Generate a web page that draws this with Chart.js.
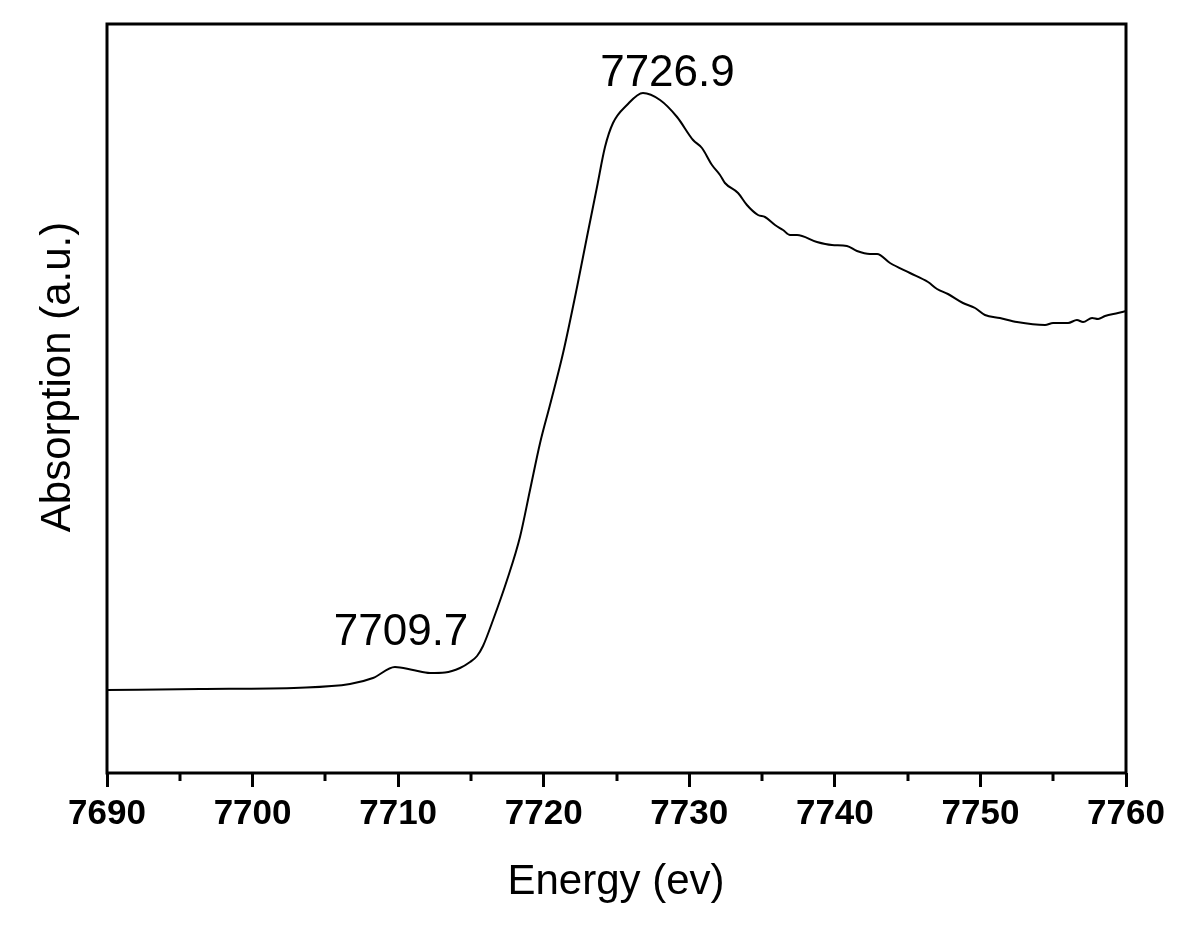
<!DOCTYPE html>
<html>
<head>
<meta charset="utf-8">
<script src="https://cdn.jsdelivr.net/npm/chart.js@4.4.0/dist/chart.umd.min.js"></script>
<style>
  html, body { margin: 0; padding: 0; background: #ffffff; }
  #wrap { width: 1200px; height: 936px; }
</style>
</head>
<body>
<div id="wrap"><canvas id="c" width="1200" height="936"></canvas></div>
<script>
// Energy (eV)
const energy = [
  7690.00, 7696.39, 7703.26, 7706.69, 7708.27, 7709.78, 7711.02, 7712.19, 7713.22, 7714.25,
  7714.94, 7715.42, 7715.83, 7716.52, 7717.48, 7718.37, 7719.06, 7719.75, 7720.43, 7721.33,
  7722.29, 7722.97, 7723.66, 7724.21, 7724.76, 7725.72, 7726.82, 7727.99, 7729.16, 7730.26,
  7730.87, 7731.56, 7732.11, 7732.45, 7733.35, 7733.96, 7734.72, 7735.20, 7735.89, 7736.44,
  7736.92, 7737.40, 7738.77, 7739.80, 7740.83, 7741.52, 7742.41, 7742.90, 7743.79, 7745.16,
  7746.40, 7747.02, 7747.77, 7748.80, 7749.63, 7750.31, 7751.34, 7752.51, 7754.44, 7754.99,
  7756.02, 7756.63, 7757.05, 7757.67, 7758.08, 7758.56, 7759.45, 7760.00
];
// Absorption (a.u.)
const absorption = [
  83, 84, 85.3, 89, 95, 106, 103, 100, 100.5, 105,
  111, 117, 127, 153, 193, 236, 283, 330, 368, 420,
  486, 536, 586, 626, 650, 668, 680, 673, 656, 633,
  625, 608, 598, 590, 580, 568, 558, 556, 548, 543,
  538, 538, 531, 528, 527, 522, 519, 519, 510, 500,
  491, 484, 479, 470, 465, 458, 455, 451, 448, 450,
  450, 453, 451, 455, 454, 457, 460, 462
];
const xTickValues = [7690, 7700, 7710, 7720, 7730, 7740, 7750, 7760];
const minorTickValues = [7695, 7705, 7715, 7725, 7735, 7745, 7755];
const peakLabels = [
  { text: "7709.7", x: 7710.2, y: 140 },
  { text: "7726.9", x: 7728.5, y: 699 }
];
const xTitle = "Energy (ev)";
const yTitle = "Absorption (a.u.)";

const points = energy.map((e, i) => ({ x: e, y: absorption[i] }));

const decor = {
  id: 'decor',
  afterDraw(chart) {
    const ctx = chart.ctx;
    const a = chart.chartArea;
    const xs = chart.scales.x, ys = chart.scales.y;
    ctx.save();
    // frame
    ctx.strokeStyle = '#000';
    ctx.lineWidth = 3;
    ctx.strokeRect(a.left, a.top, a.right - a.left, a.bottom - a.top);
    // minor ticks
    minorTickValues.forEach(v => {
      const px = Math.round(xs.getPixelForValue(v));
      ctx.beginPath();
      ctx.moveTo(px, a.bottom);
      ctx.lineTo(px, a.bottom + 8);
      ctx.stroke();
    });
    // axis titles
    ctx.fillStyle = '#000';
    ctx.font = '42px "Liberation Sans", Arial, sans-serif';
    ctx.textAlign = 'center';
    ctx.textBaseline = 'middle';
    ctx.fillText(xTitle, 616, 882);
    ctx.save();
    ctx.translate(58, 377);
    ctx.rotate(-Math.PI / 2);
    ctx.fillText(yTitle, 0, 0);
    ctx.restore();
    // peak annotations
    ctx.font = '44px "Liberation Sans", Arial, sans-serif';
    peakLabels.forEach(p => {
      ctx.fillText(p.text, xs.getPixelForValue(p.x), ys.getPixelForValue(p.y));
    });
    ctx.restore();
  }
};

new Chart(document.getElementById('c'), {
  type: 'line',
  data: {
    datasets: [{
      data: points,
      borderColor: '#000',
      borderWidth: 2,
      pointRadius: 0,
      fill: false,
      tension: 0,
      cubicInterpolationMode: 'monotone'
    }]
  },
  options: {
    responsive: false,
    animation: false,
    layout: { padding: { left: 107, right: 74, top: 24, bottom: 0 } },
    plugins: { legend: { display: false }, tooltip: { enabled: false } },
    scales: {
      x: {
        type: 'linear',
        min: 7690,
        max: 7760,
        afterBuildTicks(scale) { scale.ticks = xTickValues.map(v => ({ value: v })); },
        afterFit(scale) { scale.height = 163; },
        border: { display: false },
        grid: { drawOnChartArea: false, tickLength: 14, tickWidth: 3, color: '#000' },
        ticks: {
          color: '#000',
          padding: 6,
          maxRotation: 0,
          autoSkip: false,
          font: { family: '"Liberation Sans", Arial, sans-serif', size: 35, weight: 'bold' },
          callback: v => String(v)
        }
      },
      y: {
        display: false,
        min: 0,
        max: 749
      }
    }
  },
  plugins: [decor]
});
</script>
</body>
</html>
